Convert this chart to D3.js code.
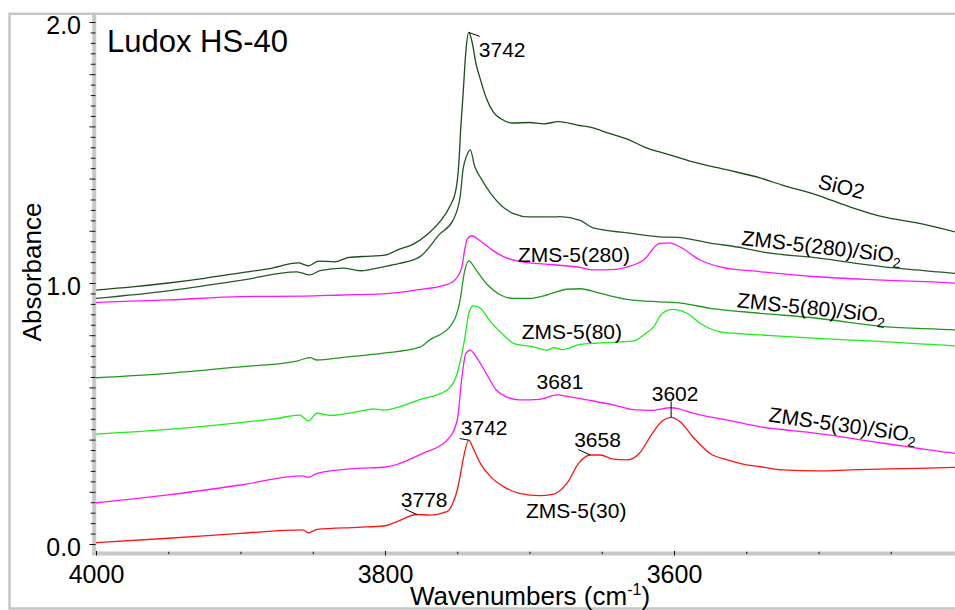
<!DOCTYPE html>
<html><head><meta charset="utf-8">
<script src="https://cdn.jsdelivr.net/npm/d3@7"></script>
<style>
html,body{margin:0;padding:0;background:#fff;}
svg{display:block;font-family:"Liberation Sans",Arial,Helvetica,sans-serif;}
</style></head><body>
<svg id="chart" width="955" height="610"></svg>
<script>
// IR spectra in the OH stretching region, [wavenumber (cm-1), absorbance]
const sio2 = [[4000,0.973],[3975,0.985],[3950,1.000],[3925,1.018],[3900,1.039],[3880,1.055],[3860,1.077],[3853,1.066],[3846,1.084],[3835,1.081],[3825,1.098],[3810,1.103],[3800,1.107],[3790,1.130],[3780,1.150],[3770,1.190],[3762,1.235],[3755,1.295],[3751,1.355],[3749,1.45],[3747.5,1.60],[3746,1.72],[3744,1.89],[3742,1.96],[3740,1.93],[3737,1.84],[3734,1.78],[3730,1.71],[3725,1.655],[3720,1.630],[3712,1.613],[3700,1.615],[3690,1.610],[3680,1.618],[3667,1.605],[3656,1.594],[3646,1.575],[3631,1.548],[3620,1.520],[3610,1.502],[3600,1.486],[3587,1.464],[3563,1.433],[3540,1.402],[3525,1.375],[3501,1.337],[3478,1.291],[3455,1.253],[3432,1.230],[3405,1.195],[3400,1.188]];
const zms280Si = [[4000,0.941],[3950,0.970],[3900,1.010],[3861,1.043],[3852,1.031],[3845,1.047],[3829,1.057],[3817,1.047],[3801,1.062],[3790,1.075],[3776,1.100],[3762,1.188],[3753,1.24],[3748,1.33],[3746,1.435],[3743.5,1.487],[3741,1.51],[3738,1.448],[3733,1.396],[3727,1.344],[3720,1.299],[3711,1.266],[3700,1.253],[3684,1.253],[3679,1.254],[3665,1.24],[3656,1.211],[3632,1.192],[3610,1.177],[3598,1.175],[3575,1.153],[3552,1.134],[3540,1.12],[3501,1.096],[3455,1.062],[3432,1.05],[3405,1.037],[3400,1.035]];
const zms280 = [[4000,0.926],[3950,0.935],[3900,0.948],[3856,0.950],[3830,0.954],[3802,0.958],[3776,0.975],[3760,0.99],[3753,1.005],[3747,1.057],[3745,1.123],[3743,1.169],[3740,1.181],[3734,1.161],[3725,1.123],[3716,1.096],[3707,1.083],[3684,1.07],[3665,1.06],[3656,1.05],[3640,1.052],[3632,1.062],[3621,1.088],[3610,1.152],[3603,1.154],[3596,1.139],[3582,1.088],[3568,1.062],[3540,1.043],[3501,1.024],[3455,1.011],[3405,0.999],[3400,0.997]];
const zms80Si = [[4000,0.637],[3950,0.654],[3900,0.679],[3861,0.701],[3852,0.714],[3847,0.705],[3829,0.715],[3801,0.731],[3776,0.754],[3769,0.782],[3755,0.833],[3748,0.935],[3745,1.043],[3742,1.085],[3737,1.05],[3730,0.999],[3720,0.954],[3711,0.941],[3700,0.941],[3688,0.954],[3674,0.976],[3665,0.978],[3651,0.960],[3630,0.935],[3610,0.928],[3598,0.925],[3575,0.903],[3540,0.884],[3501,0.865],[3455,0.833],[3405,0.820],[3400,0.818]];
const zms80 = [[4000,0.421],[3950,0.439],[3900,0.465],[3875,0.481],[3859,0.494],[3853,0.472],[3847,0.501],[3838,0.493],[3819,0.507],[3808,0.518],[3801,0.513],[3776,0.553],[3757,0.590],[3750,0.654],[3745,0.782],[3742,0.884],[3739,0.912],[3734,0.903],[3727,0.852],[3718,0.801],[3711,0.769],[3698,0.756],[3688,0.743],[3683,0.752],[3677,0.745],[3665,0.765],[3653,0.770],[3628,0.778],[3621,0.801],[3614,0.833],[3608,0.884],[3601,0.899],[3591,0.884],[3582,0.846],[3568,0.813],[3552,0.805],[3540,0.801],[3501,0.788],[3455,0.775],[3405,0.759],[3400,0.757]];
const zms30Si = [[4000,0.158],[3950,0.188],[3900,0.226],[3857,0.261],[3853,0.255],[3847,0.271],[3819,0.290],[3801,0.294],[3774,0.347],[3757,0.398],[3750,0.475],[3747,0.628],[3744,0.731],[3741,0.743],[3737,0.718],[3730,0.654],[3723,0.590],[3716,0.564],[3707,0.552],[3693,0.554],[3681,0.571],[3674,0.566],[3660,0.552],[3642,0.533],[3628,0.515],[3616,0.512],[3602,0.522],[3596,0.517],[3587,0.501],[3563,0.475],[3540,0.449],[3501,0.424],[3455,0.386],[3405,0.347],[3400,0.344]];
const zms30 = [[4000,0.005],[3950,0.022],[3900,0.041],[3857,0.054],[3853,0.043],[3847,0.056],[3819,0.064],[3801,0.069],[3792,0.085],[3778,0.113],[3769,0.111],[3757,0.124],[3753,0.157],[3750,0.207],[3748,0.26],[3746,0.322],[3742,0.398],[3739,0.367],[3734,0.309],[3727,0.258],[3718,0.220],[3707,0.194],[3693,0.185],[3684,0.190],[3674,0.233],[3666,0.309],[3658,0.341],[3651,0.341],[3642,0.325],[3633,0.322],[3624,0.347],[3615,0.424],[3608,0.472],[3602,0.485],[3596,0.469],[3587,0.411],[3575,0.347],[3563,0.322],[3550,0.303],[3540,0.296],[3525,0.284],[3500,0.280],[3478,0.284],[3432,0.290],[3405,0.294],[3400,0.295]];

const xTickLabels = [4000, 3800, 3600];
const yTickLabels = [0, 1, 2];

const series = [
  {data: sio2,     color: "#1a4d1a"},
  {data: zms280Si, color: "#245a28"},
  {data: zms280,   color: "#ff14ff"},
  {data: zms80Si,  color: "#1f9a1f"},
  {data: zms80,    color: "#18f018"},
  {data: zms30Si,  color: "#ff14ff"},
  {data: zms30,    color: "#ff1414"}
];

// series name labels: anchor in data units, rotation along the trace
const seriesLabels = [
  {name: "SiO2",       sub: "",  wn: 3501,   a: 1.364, rot: 14},
  {name: "ZMS-5(280)/SiO", sub: "2", wn: 3553.6, a: 1.146, rot: 6.5},
  {name: "ZMS-5(80)/SiO",  sub: "2", wn: 3556.7, a: 0.907, rot: 6},
  {name: "ZMS-5(30)/SiO",  sub: "2", wn: 3535,   a: 0.469, rot: 8},
  {name: "ZMS-5(280)", sub: "", wn: 3708,   a: 1.080, rot: 0},
  {name: "ZMS-5(80)",  sub: "", wn: 3705.4, a: 0.787, rot: 0},
  {name: "ZMS-5(30)",  sub: "", wn: 3702.4, a: 0.100, rot: 0}
];

// band positions marked on the traces
const bandLabels = [
  {wn: 3742, trace: sio2,    kind: "topright"},
  {wn: 3742, trace: zms30,   kind: "left"},
  {wn: 3778, trace: zms30,   kind: "upleft"},
  {wn: 3658, trace: zms30,   kind: "upleft"},
  {wn: 3681, trace: zms30Si, kind: "above"},
  {wn: 3602, trace: zms30,   kind: "stem"}
];

const svg = d3.select("#chart");
const W = 955, H = 610;

const x = d3.scaleLinear().domain([4000, 3400]).range([96, 963]);
const y = d3.scaleLinear().domain([0, 2]).range([544, 22]);

const plotTop = 14, plotBottom = 553, plotLeft = 96;

// outer frame
svg.append("rect").attr("x", 9.5).attr("y", 13.8).attr("width", 980).attr("height", 594.7)
  .attr("fill", "none").attr("stroke", "#c6c6c6").attr("stroke-width", 2.5);

svg.append("defs").append("clipPath").attr("id", "plotclip")
  .append("rect").attr("x", plotLeft).attr("y", plotTop).attr("width", W - plotLeft).attr("height", plotBottom - plotTop - 1);

// axis bands
svg.append("line").attr("x1", 94.2).attr("x2", 94.2).attr("y1", 14).attr("y2", 555)
  .attr("stroke", "#c8c8c8").attr("stroke-width", 4);
svg.append("line").attr("x1", 92).attr("x2", W).attr("y1", 553.6).attr("y2", 553.6)
  .attr("stroke", "#c8c8c8").attr("stroke-width", 4);

// y ticks every 0.04, longer every 0.2
const yTicks = d3.range(0, 51).map(i => i * 0.04);
svg.append("g").selectAll("line").data(yTicks).join("line")
  .attr("x1", (d, i) => i % 5 === 0 ? 89.5 : 90.8)
  .attr("x2", 95.5)
  .attr("y1", d => y(d) + 0.5).attr("y2", d => y(d) + 0.5)
  .attr("stroke", "#111").attr("stroke-width", 1);

// x ticks every 50
const xTicks = d3.range(4000, 3399, -50);
svg.append("g").selectAll("line").data(xTicks).join("line")
  .attr("x1", d => x(d) + 0.5).attr("x2", d => x(d) + 0.5)
  .attr("y1", d => d % 200 === 0 ? 551 : 551.8)
  .attr("y2", d => d % 200 === 0 ? 555.5 : 554.2)
  .attr("stroke", "#111").attr("stroke-width", 1);

// tick labels
svg.append("g").selectAll("text").data(yTickLabels).join("text")
  .attr("x", 81).attr("y", d => y(d) + 12)
  .attr("text-anchor", "end").attr("font-size", 25).attr("fill", "#000")
  .text(d => d3.format(".1f")(d));

svg.append("g").selectAll("text").data(xTickLabels).join("text")
  .attr("x", d => x(d) + 0.5).attr("y", 583)
  .attr("text-anchor", "middle").attr("font-size", 25).attr("fill", "#000")
  .text(d => d);

// axis titles
const xt = svg.append("text").attr("x", 530).attr("y", 605)
  .attr("text-anchor", "middle").attr("font-size", 26).attr("fill", "#000");
xt.append("tspan").text("Wavenumbers (cm");
xt.append("tspan").attr("font-size", 16).attr("dy", -10).text("-1");
xt.append("tspan").attr("dy", 10).text(")");

svg.append("text").attr("transform", "translate(41,272) rotate(-90)")
  .attr("text-anchor", "middle").attr("font-size", 26).attr("fill", "#000")
  .text("Absorbance");

// title
svg.append("text").attr("x", 107).attr("y", 52).attr("font-size", 31).attr("fill", "#000")
  .text("Ludox HS-40");

// traces
const line = d3.line().curve(d3.curveMonotoneX).x(d => x(d[0])).y(d => y(d[1]));
svg.append("g").attr("clip-path", "url(#plotclip)")
  .selectAll("path").data(series).join("path")
  .attr("d", d => line(d.data))
  .attr("fill", "none").attr("stroke", d => d.color)
  .attr("stroke-width", 1.3).attr("stroke-linejoin", "round");

// series labels
seriesLabels.forEach(l => {
  const t = svg.append("text")
    .attr("transform", `translate(${x(l.wn)},${y(l.a)}) rotate(${l.rot})`)
    .attr("font-size", 21).attr("fill", "#000");
  t.append("tspan").text(l.name);
  if (l.sub) t.append("tspan").attr("font-size", 14).attr("dy", 5).text(l.sub);
});

// band labels with leader lines
function valueAt(trace, wn) {
  const p = trace.find(d => d[0] === wn);
  return p[1];
}
bandLabels.forEach(b => {
  const px = x(b.wn), py = y(valueAt(b.trace, b.wn));
  const g = svg.append("g");
  let tx, ty, anchor = "start", lx1, ly1;
  if (b.kind === "topright") {
    lx1 = px + 11; ly1 = py + 4; tx = px + 10; ty = py + 25;
  } else if (b.kind === "left") {
    lx1 = px - 9; ly1 = py - 1.5; tx = px - 8; ty = py - 5;
  } else if (b.kind === "upleft") {
    lx1 = px - 12; ly1 = py - 5.5; tx = px - 16; ty = py - 8;
  } else if (b.kind === "above") {
    lx1 = null; tx = px + 3; ty = py - 6; anchor = "middle";
  } else {
    lx1 = px; ly1 = py - 16; tx = px + 4; ty = py - 16; anchor = "middle";
  }
  if (lx1 !== null) {
    g.append("line").attr("x1", lx1).attr("y1", ly1).attr("x2", px).attr("y2", py)
      .attr("stroke", "#000").attr("stroke-width", 1);
  }
  g.append("text").attr("x", tx).attr("y", ty).attr("text-anchor", anchor)
    .attr("font-size", 21).attr("fill", "#000").text(b.wn);
});
</script>
</body></html>
